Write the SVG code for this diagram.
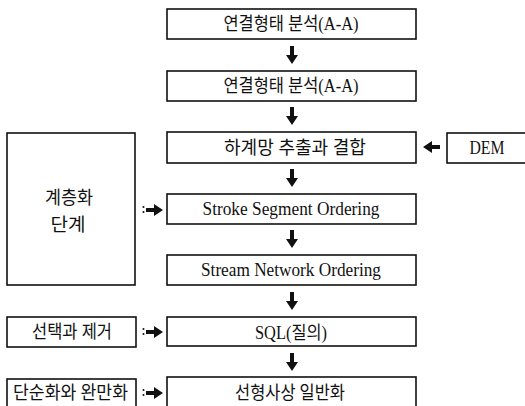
<svg xmlns="http://www.w3.org/2000/svg" xmlns:xlink="http://www.w3.org/1999/xlink" width="525" height="406" viewBox="0 0 525 406">
<style>
.box{fill:#fff;stroke:#111;stroke-width:1.6}
.ko{font-family:"Liberation Serif","Noto Sans CJK KR",serif;font-size:18px;fill:#111;text-anchor:middle;dominant-baseline:central}
.en{font-family:"Liberation Serif","Noto Sans CJK KR",serif;font-size:18px;fill:#111;text-anchor:middle}
.arr{fill:#111}
</style>
<defs>
<path id="darr" d="M-2,0 H2 V9 H6 L0,18 L-6,9 H-2 Z"/>
<path id="rarr" d="M0,-2 H8 V-6 L17,0 L8,6 V2 H0 Z"/>
<g id="colarr"><circle cx="-2.5" cy="-3" r="1"/><circle cx="-2.5" cy="2" r="1"/><use xlink:href="#rarr"/></g>
</defs>
<rect width="525" height="406" fill="#fff"/>
<g id="n1"><rect class="box" x="167" y="9" width="249" height="30"/><text class="ko" x="291" y="24" textLength="135" lengthAdjust="spacingAndGlyphs">연결형태 분석(A-A)</text></g>
<g id="n2"><rect class="box" x="167" y="71" width="249" height="30"/><text class="ko" x="291" y="86" textLength="135" lengthAdjust="spacingAndGlyphs">연결형태 분석(A-A)</text></g>
<g id="n3"><rect class="box" x="167" y="132" width="249" height="31"/><text class="ko" x="295" y="148" textLength="142" lengthAdjust="spacingAndGlyphs">하계망 추출과 결합</text></g>
<g id="dem"><rect class="box" x="447" y="133" width="90" height="30"/><text class="en" x="487" y="154" textLength="35" lengthAdjust="spacingAndGlyphs">DEM</text></g>
<g id="n4"><rect class="box" x="167" y="194" width="249" height="30"/><text class="en" x="291" y="215" textLength="177" lengthAdjust="spacingAndGlyphs">Stroke Segment Ordering</text></g>
<g id="n5"><rect class="box" x="167" y="255" width="249" height="30"/><text class="en" x="291" y="276" textLength="180" lengthAdjust="spacingAndGlyphs">Stream Network Ordering</text></g>
<g id="n6"><rect class="box" x="167" y="317" width="249" height="29"/><text class="ko" x="291" y="333" textLength="72" lengthAdjust="spacingAndGlyphs">SQL(질의)</text></g>
<g id="n7"><rect class="box" x="167" y="377" width="249" height="40"/><text class="ko" x="290" y="393" textLength="110" lengthAdjust="spacingAndGlyphs">선형사상 일반화</text></g>
<g id="stage"><rect class="box" x="7" y="133" width="128" height="152"/><text class="ko" x="69" y="198" textLength="48" lengthAdjust="spacingAndGlyphs">계층화</text><text class="ko" x="68" y="225" textLength="35" lengthAdjust="spacingAndGlyphs">단계</text></g>
<g id="select"><rect class="box" x="7" y="317" width="129" height="30"/><text class="ko" x="72" y="332" textLength="80" lengthAdjust="spacingAndGlyphs">선택과 제거</text></g>
<g id="simplify"><rect class="box" x="7" y="379" width="129" height="40"/><text class="ko" x="70.5" y="393" textLength="115" lengthAdjust="spacingAndGlyphs">단순화와 완만화</text></g>
<g id="connectors" class="arr">
<use xlink:href="#darr" x="292" y="46"/>
<use xlink:href="#darr" x="292" y="107"/>
<use xlink:href="#darr" x="292" y="169"/>
<use xlink:href="#darr" x="292" y="230"/>
<use xlink:href="#darr" x="292" y="292"/>
<use xlink:href="#darr" x="292" y="353"/>
<use xlink:href="#rarr" transform="translate(440,147) scale(-1,1)"/>
<use xlink:href="#colarr" x="146" y="210"/>
<use xlink:href="#colarr" x="146" y="332"/>
<use xlink:href="#colarr" x="146" y="393"/>
</g>
</svg>
